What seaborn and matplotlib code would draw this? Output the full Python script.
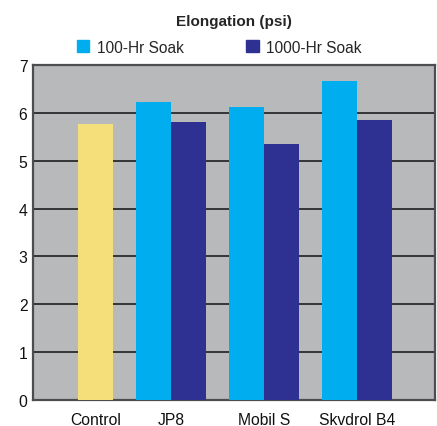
import numpy as np
import pandas as pd
import seaborn as sns
from matplotlib import pyplot as plt

# values
products = ["Control", "JP8", "Mobil S", "Skydrol B4"]
soak_100 = [np.nan, 6.22, 6.13, 6.66]
soak_1000 = [5.77, 5.82, 5.36, 5.86]
series = ["100-Hr Soak", "1000-Hr Soak"]
tick_labels = ["Control", "JP8", "Mobil S", "Skvdrol B4"]

rows = []
for p, a, b in zip(products, soak_100, soak_1000):
    rows.append({"Product": p, "Soak": series[0], "value": a})
    rows.append({"Product": p, "Soak": series[1], "value": b})
df = pd.DataFrame(rows)

sns.set_style("white")
plt.rcParams['font.family'] = ['Liberation Sans', 'DejaVu Sans']

fig = plt.figure(figsize=(4.37, 4.27), dpi=100)
ax = fig.add_axes([0.0755, 0.061, 0.92, 0.784])
ax.set_facecolor("#b8b9bb")

sns.barplot(data=df, x="Product", y="value", hue="Soak", hue_order=series,
            palette=["#00aeef", "#2e3192"], width=0.75, saturation=1,
            linewidth=0, ax=ax, zorder=3)

# control bar is drawn yellow, its label sits under it
ctrl = ax.containers[1][0]
ctrl.set_facecolor("#f5df7a")
ticks = [ctrl.get_x() + ctrl.get_width() / 2] + list(range(1, len(products)))

ax.set_ylim(0, 7)
ax.set_xlim(-0.484, 3.84)
ax.set_yticks(range(0, 8))
ax.yaxis.grid(True, color="#111111", linewidth=1.1, zorder=1)
ax.set_axisbelow(True)
ax.set_xticks(ticks)
ax.set_xticklabels(tick_labels)
ax.tick_params(axis="both", length=0, labelsize=11.3, colors="#111111")
ax.tick_params(axis="x", pad=9)
ax.tick_params(axis="y", pad=4)
ax.set_xlabel("")
ax.set_ylabel("")
for s in ax.spines.values():
    s.set_color("#4d4d4d")
    s.set_linewidth(1.6)

ax.legend_.remove()
handles = [plt.Rectangle((0, 0), 1, 1, color=c) for c in ["#00aeef", "#2e3192"]]
fig.legend(handles, series, loc="center", bbox_to_anchor=(0.502, 0.887), ncol=2,
           frameon=False, fontsize=11.2, handlelength=0.8, handleheight=0.8,
           columnspacing=4.0, handletextpad=0.5)
fig.text(0.535, 0.948, "Elongation (psi)", ha="center", va="center",
         fontsize=11, fontweight="bold")

plt.savefig("out.png", dpi=100)
